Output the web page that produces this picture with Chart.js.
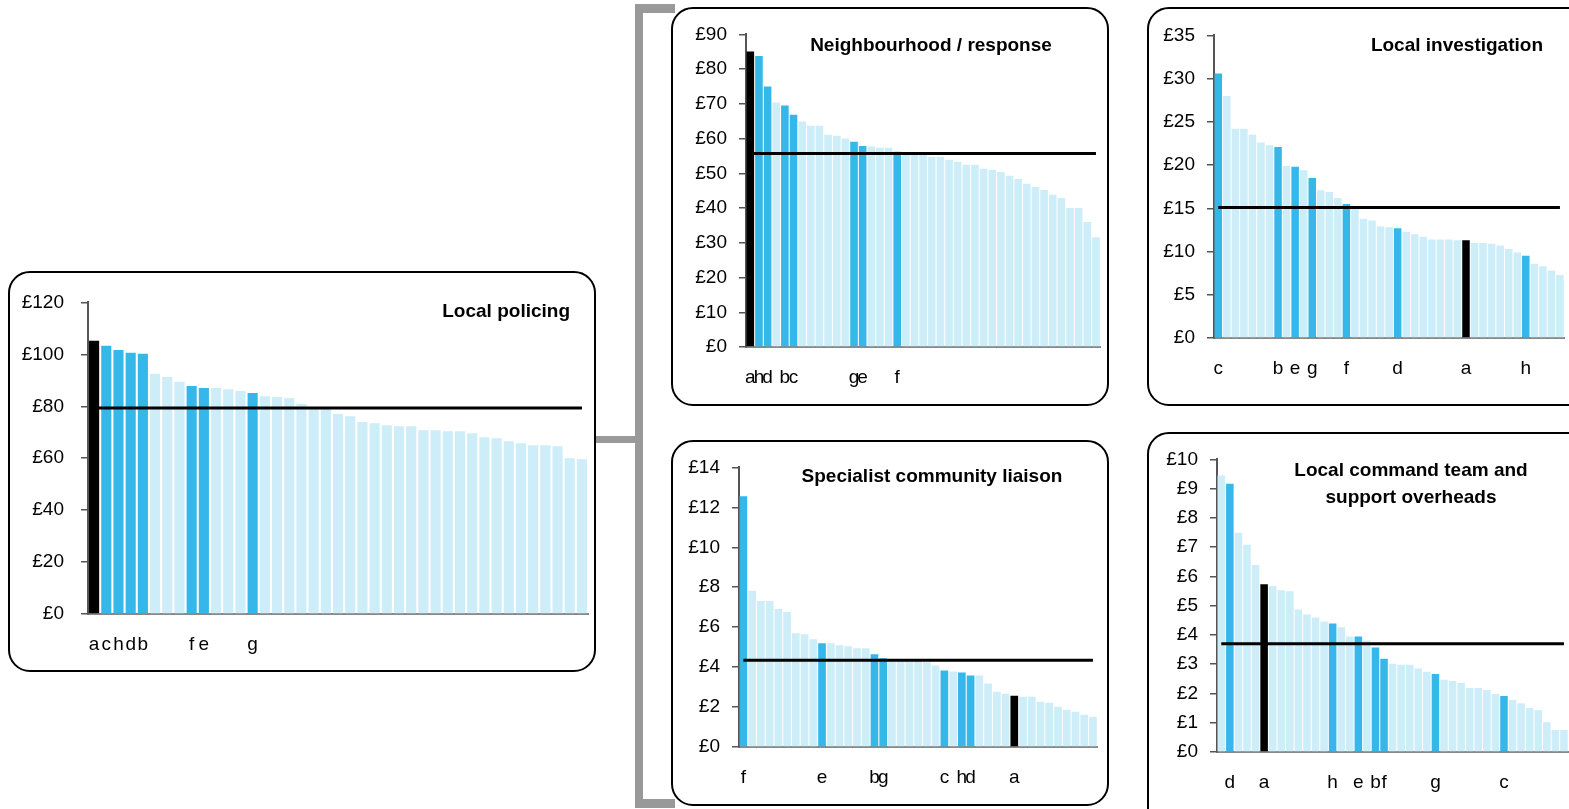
<!DOCTYPE html>
<html>
<head>
<meta charset="utf-8">
<script src="https://cdn.jsdelivr.net/npm/chart.js@4.4.1/dist/chart.umd.min.js"></script>
<style>
  html, body { margin: 0; padding: 0; background: #fff; overflow: hidden; }
  body { width: 1569px; height: 809px; position: relative; font-family: "Liberation Sans", Arial, sans-serif; }
  .box { position: absolute; border: 2px solid #000; border-radius: 22px; background: #fff; box-sizing: border-box; }
  .bracket { position: absolute; background: #999; }
  .title { position: absolute; font-weight: bold; font-size: 19px; line-height: 26px; color: #000; }
  .holder { position: absolute; }
</style>
</head>
<body>
<!-- grey bracket joining the panels -->
<div class="bracket" style="left:635px;top:4px;width:8px;height:804px"></div>
<div class="bracket" style="left:635px;top:4px;width:40px;height:9px"></div>
<div class="bracket" style="left:635px;top:799px;width:40px;height:9px"></div>
<div class="bracket" style="left:594px;top:436px;width:45px;height:7px"></div>

<div class="box" style="left:8px;top:271px;width:588px;height:401px"></div>
<div class="box" style="left:671px;top:7px;width:438px;height:399px"></div>
<div class="box" style="left:1147px;top:7px;width:450px;height:399px"></div>
<div class="box" style="left:671px;top:440px;width:438px;height:366px"></div>
<div class="box" style="left:1147px;top:432px;width:450px;height:400px"></div>

<div class="holder" id="policingBox"><canvas id="policing"></canvas></div>
<div class="holder" id="neighbourhoodBox"><canvas id="neighbourhood"></canvas></div>
<div class="holder" id="investigationBox"><canvas id="investigation"></canvas></div>
<div class="holder" id="liaisonBox"><canvas id="liaison"></canvas></div>
<div class="holder" id="commandBox"><canvas id="command"></canvas></div>

<div class="title" style="left:370px;top:298px;width:200px;text-align:right">Local policing</div>
<div class="title" style="left:731px;top:32px;width:400px;text-align:center">Neighbourhood / response</div>
<div class="title" style="left:1243px;top:32px;width:300px;text-align:right">Local investigation</div>
<div class="title" style="left:732px;top:463px;width:400px;text-align:center">Specialist community liaison</div>
<div class="title" style="left:1211px;top:456px;width:400px;text-align:center;line-height:27px">Local command team and<br>support overheads</div>

<script>
// Cost per head, 41 forces sorted high to low in each panel
const policingValues = [105.2, 103.3, 101.7, 100.6, 100.2, 92.5, 91.3, 89.4, 87.8, 87.0, 87.0, 86.6, 85.9, 85.1,
  83.9, 83.6, 83.2, 80.9, 79.8, 79.5, 77.0, 76.2, 73.9, 73.5, 72.7, 72.3, 72.3, 70.8, 70.8, 70.4, 70.4, 69.6,
  68.1, 67.7, 66.5, 65.8, 65.0, 65.0, 64.6, 60.0, 59.6];
const policingForces = ['a', 'c', 'h', 'd', 'b', 'f', 'e', 'g'];
const policingForceIdx = [0, 1, 2, 3, 4, 8, 9, 13];
const policingAverage = 79.3;

const neighbourhoodValues = [85.1, 83.8, 75.0, 70.4, 69.5, 66.9, 64.9, 63.7, 63.7, 61.1, 60.8, 60.0, 59.1, 57.9,
  57.7, 57.4, 57.4, 56.2, 56.0, 55.8, 55.3, 54.8, 54.8, 53.9, 53.3, 52.5, 52.5, 51.3, 51.0, 50.4, 49.3, 48.4,
  47.0, 46.1, 45.2, 43.8, 42.9, 40.0, 40.0, 36.0, 31.6];
const neighbourhoodForces = ['a', 'h', 'd', 'b', 'c', 'g', 'e', 'f'];
const neighbourhoodForceIdx = [0, 1, 2, 4, 5, 12, 13, 17];
const neighbourhoodAverage = 55.7;

const investigationValues = [30.6, 28.0, 24.2, 24.2, 23.5, 22.6, 22.3, 22.1, 19.9, 19.8, 19.4, 18.5, 17.1, 16.9,
  16.2, 15.5, 15.3, 13.8, 13.6, 12.9, 12.8, 12.7, 12.3, 12.0, 11.7, 11.4, 11.4, 11.4, 11.3, 11.3, 11.0, 11.0,
  10.9, 10.7, 10.3, 9.9, 9.5, 8.6, 8.3, 7.8, 7.3];
const investigationForces = ['c', 'b', 'e', 'g', 'f', 'd', 'a', 'h'];
const investigationForceIdx = [0, 7, 9, 11, 15, 21, 29, 36];
const investigationAverage = 15.1;

const liaisonValues = [12.56, 7.82, 7.31, 7.31, 6.91, 6.76, 5.70, 5.65, 5.40, 5.19, 5.19, 5.09, 5.04, 4.94, 4.94,
  4.64, 4.44, 4.40, 4.38, 4.35, 4.32, 4.24, 4.08, 3.83, 3.78, 3.73, 3.58, 3.58, 3.18, 2.77, 2.67, 2.57, 2.52,
  2.52, 2.27, 2.22, 2.02, 1.87, 1.76, 1.61, 1.51];
const liaisonForces = ['f', 'e', 'b', 'g', 'c', 'h', 'd', 'a'];
const liaisonForceIdx = [0, 9, 15, 16, 23, 25, 26, 31];
const liaisonAverage = 4.34;

const commandValues = [9.45, 9.17, 7.49, 7.08, 6.39, 5.73, 5.67, 5.53, 5.49, 4.87, 4.70, 4.60, 4.46, 4.39, 4.26,
  3.95, 3.95, 3.81, 3.57, 3.19, 3.02, 2.98, 2.98, 2.85, 2.74, 2.67, 2.47, 2.43, 2.36, 2.19, 2.19, 2.12, 1.98,
  1.91, 1.78, 1.67, 1.50, 1.43, 1.02, 0.75, 0.75];
const commandForces = ['d', 'a', 'h', 'e', 'b', 'f', 'g', 'c'];
const commandForceIdx = [1, 5, 13, 16, 18, 19, 25, 33];
const commandAverage = 3.70;

const BLACK = '#000000';
const BLUE = '#35B8E9';
const LIGHT = '#CDEDF9';
const FONT = { family: '"Liberation Sans", Arial, sans-serif', size: 19 };

const Y_W = 76, PAD_TOP = 14, X_H = 45;
// chart.js keeps a few px back round the plot; measured and taken back here
const RIGHT_FIX = 9, BOTTOM_FIX = 2;

function drawPanel(id, plot, values, forces, forceIdx, average, yMax, yStep, barPct, labelPad, topFix) {
    const labels = values.map(() => '');
    const colors = values.map(() => LIGHT);
    forceIdx.forEach((idx, i) => {
        labels[idx] = forces[i];
        colors[idx] = forces[i] === 'a' ? BLACK : BLUE;
    });

    // size the holder so the plot area lands where the picture has it
    const holder = document.getElementById(id + 'Box');
    holder.style.left = (plot.left - Y_W) + 'px';
    holder.style.top = (plot.top - PAD_TOP - topFix) + 'px';
    holder.style.width = (plot.right - plot.left + Y_W + 4 + RIGHT_FIX) + 'px';
    holder.style.height = (plot.bottom - plot.top + PAD_TOP + X_H + topFix + BOTTOM_FIX) + 'px';

    new Chart(document.getElementById(id).getContext('2d'), {
        type: 'bar',
        data: {
            labels: labels,
            datasets: [
                {
                    type: 'line',
                    data: values.map(() => average),
                    borderColor: '#000',
                    borderWidth: 3,
                    pointRadius: 0,
                    order: 0
                },
                {
                    data: values,
                    backgroundColor: colors,
                    barPercentage: barPct,
                    categoryPercentage: 1,
                    order: 1
                }
            ]
        },
        options: {
            responsive: true,
            maintainAspectRatio: false,
            animation: false,
            devicePixelRatio: 1,
            layout: { padding: { top: PAD_TOP, right: 4, left: 0, bottom: 0 } },
            plugins: { legend: { display: false }, tooltip: { enabled: false } },
            scales: {
                x: {
                    afterFit: (scale) => { scale.height = X_H; },
                    grid: { display: true, drawOnChartArea: false, drawTicks: false },
                    border: { display: true, color: '#888', width: 2 },
                    ticks: {
                        autoSkip: false, maxRotation: 0, minRotation: 0,
                        padding: 19, color: '#000', font: FONT
                    }
                },
                y: {
                    min: 0,
                    max: yMax,
                    afterFit: (scale) => { scale.width = Y_W; },
                    grid: { display: true, drawOnChartArea: false, drawTicks: true, tickLength: 7, color: '#555', lineWidth: 1.5 },
                    border: { display: true, color: '#555', width: 2 },
                    ticks: {
                        stepSize: yStep,
                        padding: labelPad,
                        color: '#000',
                        font: FONT,
                        callback: (v) => '£' + v
                    }
                }
            }
        }
    });
}

drawPanel('policing', { left: 88, top: 302, right: 588, bottom: 612 },
    policingValues, policingForces, policingForceIdx, policingAverage, 120, 20, 0.83, 17, 14);
drawPanel('neighbourhood', { left: 746, top: 34, right: 1102, bottom: 345 },
    neighbourhoodValues, neighbourhoodForces, neighbourhoodForceIdx, neighbourhoodAverage, 90, 10, 0.88, 12, 9);
drawPanel('investigation', { left: 1214, top: 35, right: 1566, bottom: 336 },
    investigationValues, investigationForces, investigationForceIdx, investigationAverage, 35, 5, 0.88, 12, 9);
drawPanel('liaison', { left: 739, top: 467, right: 1099, bottom: 745 },
    liaisonValues, liaisonForces, liaisonForceIdx, liaisonAverage, 14, 2, 0.88, 12, 9);
drawPanel('command', { left: 1217, top: 460, right: 1570, bottom: 750 },
    commandValues, commandForces, commandForceIdx, commandAverage, 10, 1, 0.88, 12, 10);
</script>
</body>
</html>
